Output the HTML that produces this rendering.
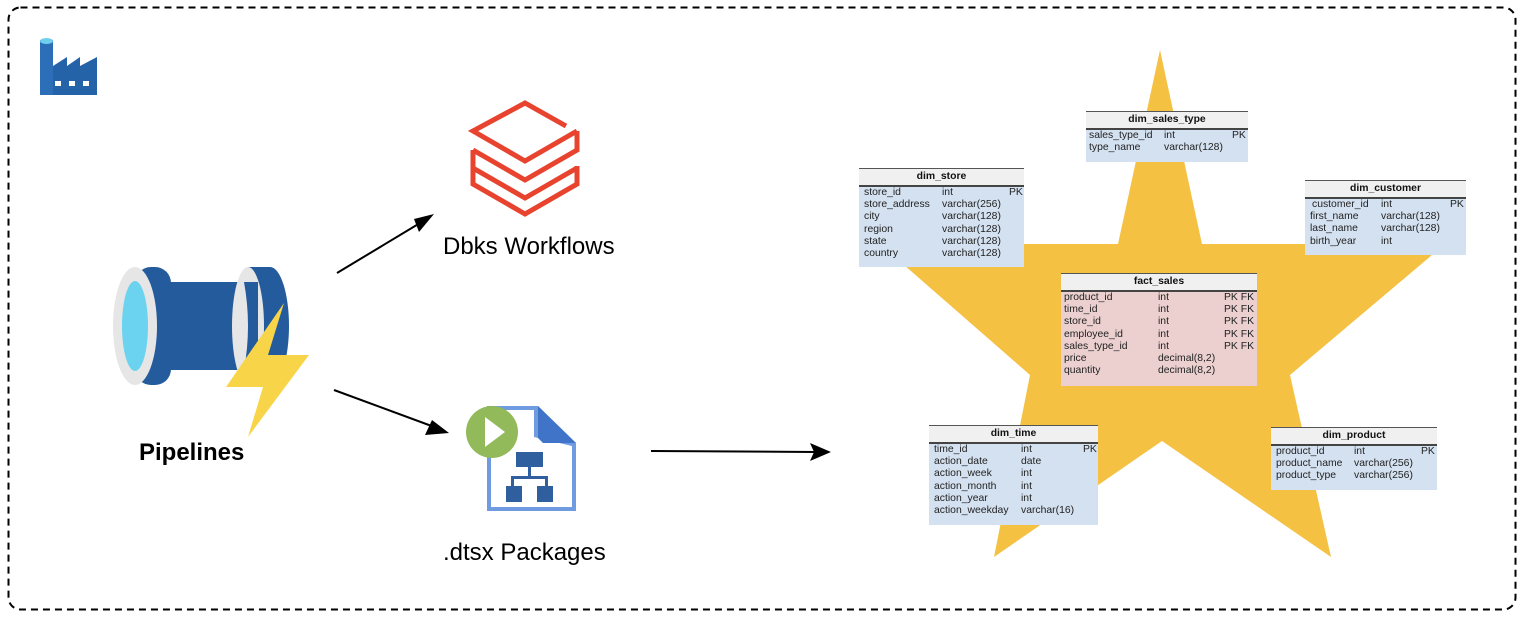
<!DOCTYPE html>
<html><head><meta charset="utf-8"><style>
body{margin:0;width:1526px;height:618px;background:#fff;position:relative;overflow:hidden;font-family:"Liberation Sans",Arial,sans-serif}
svg{position:absolute;left:0;top:0}
.t{position:absolute;background:#d4e1f0;font-size:10.4px;color:#222}
.t .h{background:#f0f0f0;border-top:1px solid #555;border-bottom:2px solid #444;font-weight:bold;text-align:center;height:16px;line-height:16px;font-size:10.4px;color:#111}
.t .r{height:12.2px;line-height:12px;position:relative;white-space:nowrap}
.t .r span{position:absolute}
.pink{background:#ecd0d0}
.lbl{position:absolute;font-size:24px;color:#000;white-space:nowrap}
</style></head><body>
<svg width="1526" height="618">
<rect x="8.5" y="7.5" width="1507" height="602" rx="12" fill="none" stroke="#000" stroke-width="2" stroke-dasharray="7,5"/>
<!-- factory icon -->
<rect x="40" y="40" width="13" height="55" fill="#2c6fb8"/>
<ellipse cx="46.5" cy="41" rx="6.5" ry="3" fill="#6fd0ee"/>
<polygon points="53,95 53,66 67,57 67,66 80,57 80,66 97,57 97,95" fill="#2563a8"/>
<rect x="55" y="81" width="6" height="5" fill="#fff"/><rect x="69" y="81" width="6" height="5" fill="#fff"/><rect x="83" y="81" width="6" height="5" fill="#fff"/>
<!-- pipeline -->
<rect x="135" y="267" width="36" height="118" rx="16" fill="#245b9c"/>
<rect x="150" y="282" width="110" height="88" fill="#245b9c"/>
<ellipse cx="270" cy="326" rx="19" ry="59" fill="#245b9c"/>
<rect x="248" y="267" width="22" height="118" fill="#245b9c"/>
<ellipse cx="248" cy="326" rx="16" ry="59" fill="#e6e6e6"/>
<path d="M258,282 L258,370 L244,370 Q252,326 244,282 Z" fill="#245b9c"/>
<ellipse cx="135" cy="326" rx="22" ry="59" fill="#e6e6e6"/>
<ellipse cx="135" cy="326" rx="13" ry="45" fill="#6bd3ef"/>
<polygon points="284,303 268,355 309,355 248,437 263,387 226,387" fill="#f8d548"/>
<!-- arrows -->
<g stroke="#000" stroke-width="2"><line x1="337" y1="273" x2="425" y2="220"/><line x1="334" y1="390" x2="437" y2="428"/><line x1="651" y1="451" x2="815" y2="452"/></g>
<polygon points="434,214 419,232 414,219" fill="#000"/>
<polygon points="449,433 425,435 432,420" fill="#000"/>
<polygon points="831,452 810,461 814,452 810,443" fill="#000"/>
<!-- databricks -->
<g fill="none" stroke="#e8432f" stroke-width="5" stroke-linejoin="miter">
<polyline points="566,126 525,103 473,131 525,161 577,131"/>
<polyline points="577,131 577,150 525,180 473,150"/>
<polyline points="473,150 473,168 525,198 577,168"/>
<polyline points="473,168 473,184 525,214 577,184 577,166"/>
</g>
<!-- dtsx -->
<polygon points="487,406 538,406 576,443 576,511 487,511" fill="#6f9be0"/>
<polygon points="491,410 534,410 534,437 572,446 572,507 491,507" fill="#fff"/>
<polygon points="538,406 576,443 543,443 538,438" fill="#3f74c9"/>
<circle cx="492" cy="432" r="26" fill="#92ba5a"/>
<polygon points="485,417 505,432 485,447" fill="#fff"/>
<g fill="#2f5f9f"><rect x="516" y="452" width="27" height="15"/><rect x="528" y="466" width="3" height="10"/><rect x="511" y="476" width="37" height="3"/><rect x="511" y="476" width="3" height="10"/><rect x="545" y="476" width="3" height="10"/><rect x="506" y="486" width="16" height="16"/><rect x="537" y="486" width="16" height="16"/></g>
<!-- star -->
<polygon points="1160,50 1202,244 1445,244 1290,375 1331,557 1162,441 994,557 1030,375 880,244 1118,244" fill="#f5c143"/>
</svg>
<div class="lbl" style="left:443px;top:233px">Dbks Workflows</div>
<div class="lbl" style="left:443px;top:539px">.dtsx Packages</div>
<div class="lbl" style="left:139px;top:439px;font-weight:bold">Pipelines</div>

<div class="t" style="left:1086px;top:111px;width:162px;height:51px"><div class="h">dim_sales_type</div>
<div class="r"><span style="left:3px">sales_type_id</span><span style="left:78px">int</span><span style="left:146px">PK</span></div>
<div class="r"><span style="left:3px">type_name</span><span style="left:78px">varchar(128)</span></div></div>

<div class="t" style="left:859px;top:168px;width:165px;height:99px"><div class="h">dim_store</div>
<div class="r"><span style="left:5px">store_id</span><span style="left:83px">int</span><span style="left:150px">PK</span></div>
<div class="r"><span style="left:5px">store_address</span><span style="left:83px">varchar(256)</span></div>
<div class="r"><span style="left:5px">city</span><span style="left:83px">varchar(128)</span></div>
<div class="r"><span style="left:5px">region</span><span style="left:83px">varchar(128)</span></div>
<div class="r"><span style="left:5px">state</span><span style="left:83px">varchar(128)</span></div>
<div class="r"><span style="left:5px">country</span><span style="left:83px">varchar(128)</span></div></div>

<div class="t" style="left:1305px;top:180px;width:161px;height:75px"><div class="h">dim_customer</div>
<div class="r"><span style="left:7px">customer_id</span><span style="left:76px">int</span><span style="left:145px">PK</span></div>
<div class="r"><span style="left:5px">first_name</span><span style="left:76px">varchar(128)</span></div>
<div class="r"><span style="left:5px">last_name</span><span style="left:76px">varchar(128)</span></div>
<div class="r"><span style="left:5px">birth_year</span><span style="left:76px">int</span></div></div>

<div class="t pink" style="left:1061px;top:273px;width:196px;height:113px"><div class="h">fact_sales</div>
<div class="r"><span style="left:3px">product_id</span><span style="left:97px">int</span><span style="left:163px">PK FK</span></div>
<div class="r"><span style="left:3px">time_id</span><span style="left:97px">int</span><span style="left:163px">PK FK</span></div>
<div class="r"><span style="left:3px">store_id</span><span style="left:97px">int</span><span style="left:163px">PK FK</span></div>
<div class="r"><span style="left:3px">employee_id</span><span style="left:97px">int</span><span style="left:163px">PK FK</span></div>
<div class="r"><span style="left:3px">sales_type_id</span><span style="left:97px">int</span><span style="left:163px">PK FK</span></div>
<div class="r"><span style="left:3px">price</span><span style="left:97px">decimal(8,2)</span></div>
<div class="r"><span style="left:3px">quantity</span><span style="left:97px">decimal(8,2)</span></div></div>

<div class="t" style="left:929px;top:425px;width:169px;height:100px"><div class="h">dim_time</div>
<div class="r"><span style="left:5px">time_id</span><span style="left:92px">int</span><span style="left:154px">PK</span></div>
<div class="r"><span style="left:5px">action_date</span><span style="left:92px">date</span></div>
<div class="r"><span style="left:5px">action_week</span><span style="left:92px">int</span></div>
<div class="r"><span style="left:5px">action_month</span><span style="left:92px">int</span></div>
<div class="r"><span style="left:5px">action_year</span><span style="left:92px">int</span></div>
<div class="r"><span style="left:5px">action_weekday</span><span style="left:92px">varchar(16)</span></div></div>

<div class="t" style="left:1271px;top:427px;width:166px;height:63px"><div class="h">dim_product</div>
<div class="r"><span style="left:5px">product_id</span><span style="left:83px">int</span><span style="left:150px">PK</span></div>
<div class="r"><span style="left:5px">product_name</span><span style="left:83px">varchar(256)</span></div>
<div class="r"><span style="left:5px">product_type</span><span style="left:83px">varchar(256)</span></div></div>
</body></html>
